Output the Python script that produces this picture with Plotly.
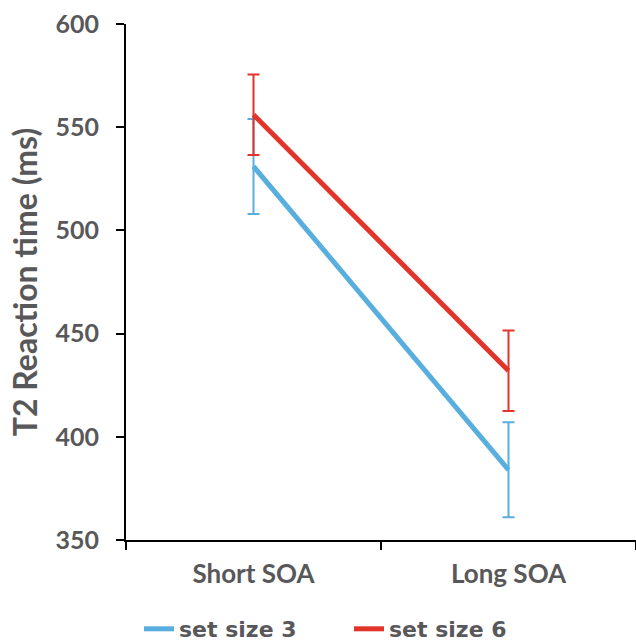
import plotly.graph_objects as go

categories = ["Short SOA", "Long SOA"]
set3_rt = [531, 384]
set3_err = [23, 23]
set6_rt = [556, 432]
set6_err = [19.5, 19.5]
y_ticks = [350, 400, 450, 500, 550, 600]

BLUE = "#58AEDD"
RED = "#E1342A"
GRAY = "#58585A"

fig = go.Figure()
fig.add_trace(go.Scatter(
    x=categories, y=set3_rt, mode="lines", name="set size 3",
    line=dict(color=BLUE, width=5),
    error_y=dict(type="data", array=set3_err, visible=True, color=BLUE, thickness=2, width=6),
))
fig.add_trace(go.Scatter(
    x=categories, y=set6_rt, mode="lines", name="set size 6",
    line=dict(color=RED, width=5),
    error_y=dict(type="data", array=set6_err, visible=True, color=RED, thickness=2, width=6),
))

fig.update_layout(
    width=636, height=644,
    margin=dict(l=126, r=0, t=24, b=104),
    plot_bgcolor="white", paper_bgcolor="white",
    font=dict(family="Lato", color=GRAY, size=21),
    showlegend=True,
    legend=dict(orientation="h", xref="container", x=139/636, xanchor="left",
                yref="container", y=1 - 629/644, yanchor="middle",
                font=dict(family="DejaVu Sans", size=22, color=GRAY, weight="bold"),
                entrywidth=165, entrywidthmode="pixels", tracegroupgap=0),
    xaxis=dict(
        type="category", range=[-0.5, 1.5], showline=True, linecolor="black", linewidth=2,
        ticks="outside", tickson="boundaries", ticklen=8, tickwidth=2, tickcolor="black",
        showgrid=False, zeroline=False, ticklabelstandoff=10,
        tickfont=dict(family="Lato", size=26, color=GRAY, weight="bold"),
    ),
    yaxis=dict(
        range=[350, 600], tickvals=y_ticks, showline=True, linecolor="black", linewidth=2,
        ticks="outside", ticklen=8, tickwidth=2, tickcolor="black",
        showgrid=False, zeroline=False, ticklabelstandoff=12,
        tickfont=dict(family="Lato", size=25, color=GRAY, weight="bold"),
        title=dict(text="T2 Reaction time (ms)", standoff=8,
                   font=dict(family="Lato", size=32, color=GRAY, weight="bold")),
    ),
)

fig.write_html("out.html")
